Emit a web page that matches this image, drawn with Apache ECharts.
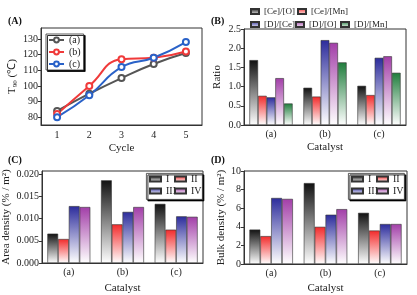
<!DOCTYPE html>
<html>
<head>
<meta charset="utf-8">
<script src="https://cdn.jsdelivr.net/npm/echarts@6/dist/echarts.min.js"></script>
<style>
  html, body { margin: 0; padding: 0; background: #fff; }
  #chart { width: 417px; height: 295px; }
</style>
</head>
<body>
<div id="chart"></div>
<script>
// panel A: T90 over cycles
const cycles = ['1', '2', '3', '4', '5'];
const t90A = [84, 95, 105, 114, 121];
const t90B = [82, 100, 117, 118, 122];
const t90C = [80, 94, 112, 118, 128];

// panel B: ratios
const catalysts = ['(a)', '(b)', '(c)'];
const ceO = [1.69, 0.97, 1.02];
const ceMn = [0.76, 0.74, 0.78];
const dCe = [0.72, 2.21, 1.75];
const dO = [1.22, 2.14, 1.79];
const dMn = [0.56, 1.63, 1.36];

// panel C: area density
const areaI = [0.0066, 0.0186, 0.0133];
const areaII = [0.0054, 0.0087, 0.0075];
const areaIII = [0.0128, 0.0115, 0.0105];
const areaIV = [0.0126, 0.0126, 0.0104];

// panel D: bulk density
const bulkI = [3.7, 8.7, 5.5];
const bulkII = [3.0, 4.0, 3.6];
const bulkIII = [7.1, 5.3, 4.3];
const bulkIV = [7.0, 5.9, 4.3];

const FONT = '"Liberation Serif", "Times New Roman", serif';
const TICK = 10;   // tick label size
const NAME = 11;   // axis title size
const chart = echarts.init(document.getElementById('chart'));

const fade = (c) => new echarts.graphic.LinearGradient(0, 0, 0, 1, [
  { offset: 0, color: c },
  { offset: 1, color: '#ffffff' }
]);

const barStyle = (c) => ({ color: fade(c), borderColor: '#333', borderWidth: 0.6 });

const catAxis = (gi, name, gap) => ({
  type: 'category', gridIndex: gi, data: catalysts,
  name: name, nameLocation: 'middle', nameGap: gap,
  nameTextStyle: { fontFamily: FONT, fontSize: NAME, color: '#222' },
  axisLine: { lineStyle: { color: '#333' } },
  axisTick: { alignWithLabel: true, length: 3, lineStyle: { color: '#333' } },
  axisLabel: { fontFamily: FONT, fontSize: TICK, color: '#222', margin: 4 }
});

const valAxis = (gi, opts) => Object.assign({
  type: 'value', gridIndex: gi,
  nameLocation: 'middle', nameRotate: 90,
  nameTextStyle: { fontFamily: FONT, fontSize: NAME, color: '#222' },
  axisLine: { show: true, lineStyle: { color: '#333' } },
  axisTick: { show: true, length: 3, lineStyle: { color: '#333' } },
  axisLabel: { fontFamily: FONT, fontSize: TICK, color: '#222', margin: 3 },
  splitLine: { show: false }
}, opts);

const gridBox = { show: true, borderColor: '#333', borderWidth: 1, containLabel: false };

const lineSeries = (name, data, color) => ({
  name: name, type: 'line', xAxisIndex: 0, yAxisIndex: 0, data: data,
  smooth: true, symbol: 'emptyCircle', symbolSize: 6,
  lineStyle: { color: color, width: 2 },
  itemStyle: { color: color, borderWidth: 2 }
});

const barSeries = (name, data, color, idx) => ({
  name: name, type: 'bar', xAxisIndex: idx, yAxisIndex: idx, data: data,
  barGap: '0%', barCategoryGap: '20%', itemStyle: barStyle(color)
});

// one legend entry placed by hand
const itemLegend = (name, left, top, o) => ({
  left: left, top: top, data: [name], padding: 0, z: 6,
  icon: 'rect', itemWidth: o.w, itemHeight: 5,
  textStyle: { fontFamily: FONT, fontSize: o.fs, color: '#222' }
});

const B_ITEM = { w: 8, fs: 9 };
const CD_ITEM = { w: 11, fs: 10 };

const legendBox = (x, y) => ({
  type: 'rect', left: x, top: y, z: 3,
  shape: { width: 56, height: 26 },
  style: { fill: '#fff', stroke: '#333', lineWidth: 0.8, shadowColor: '#000', shadowOffsetX: 1.5, shadowOffsetY: 1.5 }
});

const boxItems = (x) => [
  itemLegend('I', x + 3, 174, CD_ITEM),
  itemLegend('II', x + 28, 174, CD_ITEM),
  itemLegend('III', x + 3, 186, CD_ITEM),
  itemLegend('IV', x + 28, 186, CD_ITEM)
];

const option = {
  animation: false,
  backgroundColor: '#fff',
  title: [
    { text: '(A)', left: 8, top: 16 },
    { text: '(B)', left: 211, top: 16 },
    { text: '(C)', left: 8, top: 155 },
    { text: '(D)', left: 211, top: 155 }
  ].map(t => Object.assign(t, { padding: 0, textStyle: { fontFamily: FONT, fontSize: 10, fontWeight: 'bold', color: '#111' } })),
  graphic: [legendBox(146, 173), legendBox(348, 173)],
  grid: [
    Object.assign({ left: 41, top: 28, width: 161, height: 97 }, gridBox),
    Object.assign({ left: 244, top: 29, width: 162, height: 96 }, gridBox),
    Object.assign({ left: 41, top: 171, width: 162, height: 93 }, gridBox),
    Object.assign({ left: 244, top: 171, width: 163, height: 93 }, gridBox)
  ],
  legend: [
    {
      left: 46, top: 34, orient: 'vertical', data: ['(a)', '(b)', '(c)'],
      itemWidth: 15, itemHeight: 6, itemGap: 2,
      textStyle: { fontFamily: FONT, fontSize: 10, color: '#222' },
      borderColor: '#333', borderWidth: 0.8, padding: [1, 3, 1, 2],
      backgroundColor: '#fff', shadowColor: '#000', shadowOffsetX: 1.5, shadowOffsetY: 1.5
    },
    itemLegend('[Ce]/[O]', 250, 7, B_ITEM),
    itemLegend('[Ce]/[Mn]', 297, 7, B_ITEM),
    itemLegend('[D]/[Ce]', 250, 20, B_ITEM),
    itemLegend('[D]/[O]', 295, 20, B_ITEM),
    itemLegend('[D]/[Mn]', 340, 20, B_ITEM)
  ].concat(boxItems(146), boxItems(348)),
  xAxis: [
    {
      type: 'category', gridIndex: 0, data: cycles, boundaryGap: true,
      name: 'Cycle', nameLocation: 'middle', nameGap: 18,
      nameTextStyle: { fontFamily: FONT, fontSize: NAME, color: '#222' },
      axisLine: { lineStyle: { color: '#333' } },
      axisTick: { alignWithLabel: true, length: 3, lineStyle: { color: '#333' } },
      axisLabel: { fontFamily: FONT, fontSize: TICK, color: '#222', margin: 5 }
    },
    catAxis(1, 'Catalyst', 17),
    catAxis(2, 'Catalyst', 20),
    catAxis(3, 'Catalyst', 19)
  ],
  yAxis: [
    valAxis(0, {
      min: 75, max: 137, name: '{a|T}{b|90}{a| (℃)}', nameGap: 21,
      nameTextStyle: { rich: {
        a: { fontFamily: FONT, fontSize: NAME, color: '#222' },
        b: { fontFamily: FONT, fontSize: 7, color: '#222', padding: [6, 0, 0, 0] }
      } },
      axisTick: { show: true, length: 3, customValues: [80, 90, 100, 110, 120, 130], lineStyle: { color: '#333' } },
      axisLabel: { fontFamily: FONT, fontSize: TICK, color: '#222', margin: 3, customValues: [80, 90, 100, 110, 120, 130] }
    }),
    valAxis(1, {
      min: 0, max: 2.5, interval: 0.5, name: 'Ratio', nameGap: 21,
      axisLabel: { fontFamily: FONT, fontSize: TICK, color: '#222', margin: 3, formatter: v => v.toFixed(1) }
    }),
    valAxis(2, {
      min: 0, max: 0.0207, name: 'Area density (% / m²)', nameGap: 30,
      axisTick: { show: true, length: 3, customValues: [0, 0.005, 0.01, 0.015, 0.02], lineStyle: { color: '#333' } },
      axisLabel: { fontFamily: FONT, fontSize: TICK, color: '#222', margin: 3, customValues: [0, 0.005, 0.01, 0.015, 0.02], formatter: v => v.toFixed(3) }
    }),
    valAxis(3, {
      min: 0, max: 10, interval: 2, name: 'Bulk density (% / m²)', nameGap: 16
    })
  ],
  series: [
    lineSeries('(a)', t90A, '#555555'),
    lineSeries('(b)', t90B, '#f03a3a'),
    lineSeries('(c)', t90C, '#2a62c8'),

    barSeries('[Ce]/[O]', ceO, '#111111', 1),
    barSeries('[Ce]/[Mn]', ceMn, '#f22a2a', 1),
    barSeries('[D]/[Ce]', dCe, '#2c2c9c', 1),
    barSeries('[D]/[O]', dO, '#a23ea8', 1),
    barSeries('[D]/[Mn]', dMn, '#1f7d3c', 1),

    barSeries('I', areaI, '#111111', 2),
    barSeries('II', areaII, '#f22a2a', 2),
    barSeries('III', areaIII, '#2c2c9c', 2),
    barSeries('IV', areaIV, '#a23ea8', 2),

    barSeries('I', bulkI, '#111111', 3),
    barSeries('II', bulkII, '#f22a2a', 3),
    barSeries('III', bulkIII, '#2c2c9c', 3),
    barSeries('IV', bulkIV, '#a23ea8', 3)
  ]
};

chart.setOption(option);
</script>
</body>
</html>
